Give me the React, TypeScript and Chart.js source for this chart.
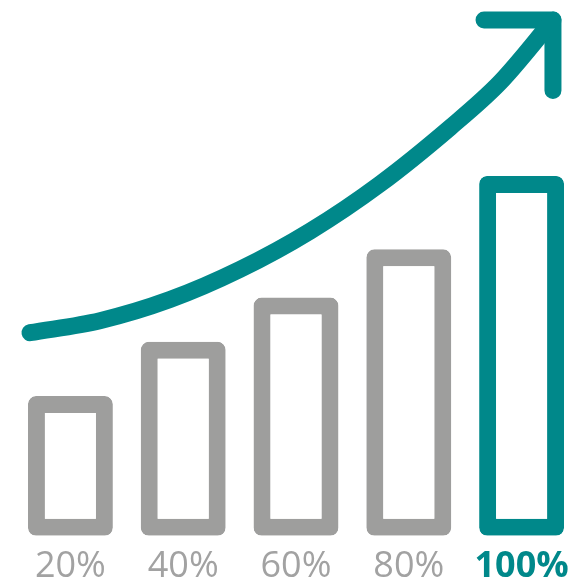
import React, { useEffect, useRef } from "react";
import { Chart, registerables } from "chart.js";

Chart.register(...registerables);

// Categories / tick labels
const labels = ["20%", "40%", "60%", "80%", "100%"];
// Bar heights (units: 0..533 scale)
const barValues = [139, 193, 237, 285, 358];
// Rising trend curve (x in category-index units, y in same value units)
const trendX = [-0.358, 0.262, 0.883, 1.504, 2.124, 2.745, 3.365, 3.809, 4.278];
const trendY = [202, 214, 235, 265, 303, 350, 406, 451, 513];
// Arrow head polyline
const arrowX = [3.667, 4.278, 4.278];
const arrowY = [513, 513, 443];

const GRAY = "#9e9e9d";
const LABEL_GRAY = "#a2a2a2";
const TEAL = "#00888a";
const Y_MAX = 533;

export default function App() {
  const ref = useRef<HTMLCanvasElement | null>(null);

  useEffect(() => {
    let chart: Chart | null = null;
    let cancelled = false;
    const make = () => {
      if (cancelled || !ref.current) return;
      const highlight = labels.length - 1;
      chart = new Chart(ref.current, {
        type: "bar",
        data: {
          labels,
          datasets: [
            {
              type: "line",
              xAxisID: "xt",
              data: trendX.map((x, i) => ({ x, y: trendY[i] })),
              borderColor: TEAL,
              borderWidth: 17,
              borderCapStyle: "round",
              borderJoinStyle: "round",
              cubicInterpolationMode: "monotone",
              pointRadius: 0,
              fill: false,
              clip: false,
              order: 0,
            } as any,
            {
              type: "line",
              xAxisID: "xt",
              data: arrowX.map((x, i) => ({ x, y: arrowY[i] })),
              borderColor: TEAL,
              borderWidth: 17,
              borderCapStyle: "round",
              borderJoinStyle: "round",
              tension: 0,
              pointRadius: 0,
              fill: false,
              clip: false,
              order: 0,
            } as any,
            {
              type: "bar",
              data: barValues,
              backgroundColor: "#ffffff",
              borderColor: barValues.map((_, i) => (i === highlight ? TEAL : GRAY)),
              borderWidth: 17,
              borderRadius: 8,
              borderSkipped: false,
              grouped: false,
              barPercentage: 0.753,
              categoryPercentage: 1,
              order: 1,
            } as any,
          ],
        },
        options: {
          animation: false,
          responsive: true,
          maintainAspectRatio: false,
          layout: { padding: { left: 14, right: 2, top: 0, bottom: -9 } },
          plugins: { legend: { display: false }, tooltip: { enabled: false } },
          scales: {
            x: {
              type: "category",
              offset: true,
              border: { display: false },
              grid: { display: false, drawTicks: false },
              ticks: {
                padding: 9,
                maxRotation: 0,
                autoSkip: false,
                color: (ctx: any) => (ctx.index === highlight ? TEAL : LABEL_GRAY),
                font: (ctx: any) => ({
                  family: "'Open Sans', sans-serif",
                  size: 36,
                  weight: ctx.index === highlight ? "bold" : "normal",
                }),
              },
            },
            xt: {
              type: "linear",
              display: false,
              offset: false,
              min: -0.5,
              max: 4.5,
              grid: { offset: false },
            },
            y: {
              display: false,
              min: 0,
              max: Y_MAX,
            },
          },
        },
      });
    };
    const fonts = (document as any).fonts;
    if (fonts && fonts.load) {
      Promise.all([
        fonts.load("36px 'Open Sans'"),
        fonts.load("bold 36px 'Open Sans'"),
      ])
        .catch(() => {})
        .then(make);
    } else {
      make();
    }
    return () => {
      cancelled = true;
      if (chart) chart.destroy();
    };
  }, []);

  return (
    <div
      style={{
        position: "fixed",
        left: 0,
        top: 0,
        width: 580,
        height: 588,
        background: "#ffffff",
      }}
    >
      <canvas ref={ref} />
    </div>
  );
}
